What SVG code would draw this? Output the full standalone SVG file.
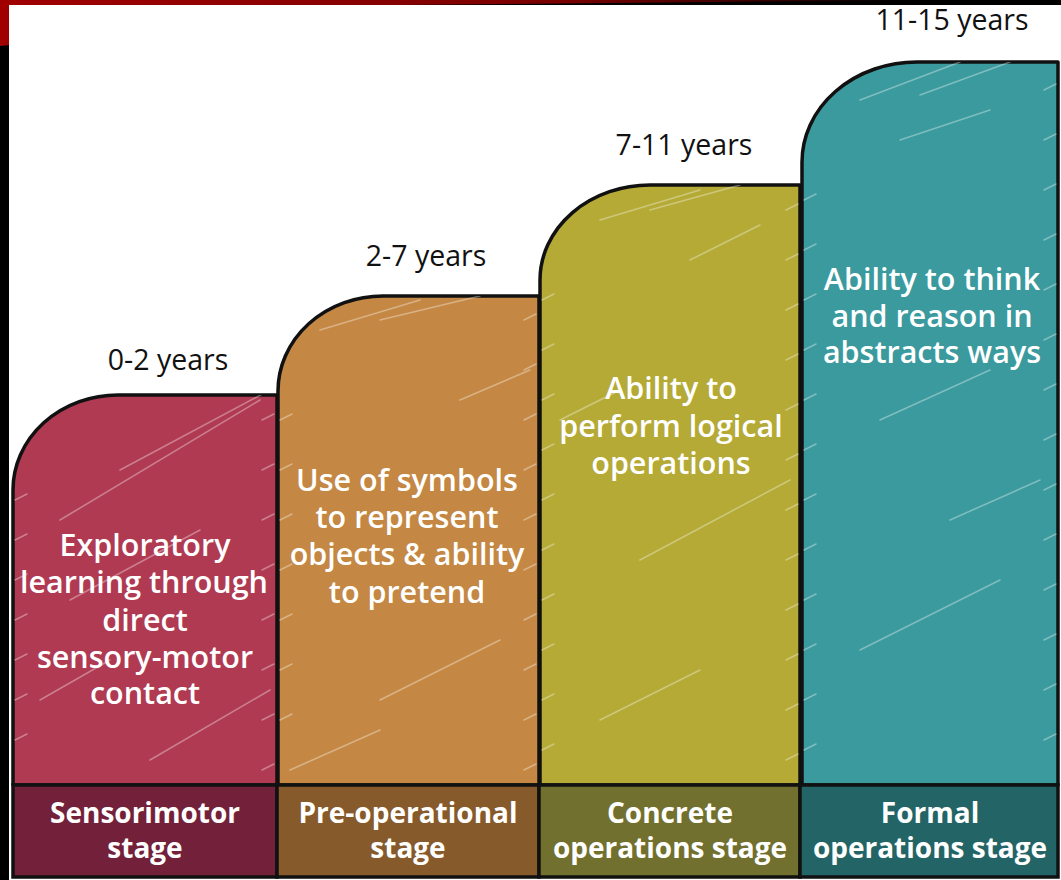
<svg xmlns="http://www.w3.org/2000/svg" width="1061" height="880" viewBox="0 0 1061 880">
<defs>
<linearGradient id="red" x1="0" y1="0" x2="1" y2="0">
<stop offset="0" stop-color="#a00000"/>
<stop offset="0.6" stop-color="#7a0000"/>
<stop offset="1" stop-color="#000000"/>
</linearGradient>
<clipPath id="c1"><path d="M13,785 V490 A105,95 0 0 1 118,395 H277 V785 Z"/></clipPath>
<clipPath id="c2"><path d="M278,785 V391 A105,95 0 0 1 383,296 H539 V785 Z"/></clipPath>
<clipPath id="c3"><path d="M540,785 V280 A110,95 0 0 1 650,185 H800 V785 Z"/></clipPath>
<clipPath id="c4"><path d="M802,785 V162 A115,100 0 0 1 917,62 H1058 V785 Z"/></clipPath>
</defs>
<style>
.shape{stroke:#111;stroke-width:3.5;stroke-linejoin:round}
.box{stroke:#111;stroke-width:3.5}
.hatch{stroke:#fff;stroke-opacity:0.35;stroke-width:1.6;stroke-linecap:round;fill:none}
.body{font-family:"Open Sans","Liberation Sans",sans-serif;font-weight:600;font-size:30.5px;fill:#fff;text-anchor:middle}
.lab{font-family:"Open Sans","Liberation Sans",sans-serif;font-weight:700;font-size:28px;fill:#fff;text-anchor:middle}
.yr{font-family:"Open Sans","Liberation Sans",sans-serif;font-weight:400;font-size:28.5px;fill:#111;text-anchor:middle}
</style>
<rect x="0" y="0" width="1061" height="880" fill="#000"/>
<path d="M0,0 H930 L400,5 H9 V45 L0,46 Z" fill="url(#red)"/>
<rect x="9" y="5" width="1052" height="875" fill="#fff"/>

<g id="col1">
<path class="shape" d="M13,785 V490 A105,95 0 0 1 118,395 H277 V785 Z" fill="#b03a52"/>
<g clip-path="url(#c1)" class="hatch">
<path d="M60,520 L260,400"/><path d="M120,470 L270,390"/><path d="M70,600 L200,530"/><path d="M150,760 L270,690"/><path d="M40,700 L110,660"/>
<path d="M15,500 l12,-6 M15,540 l12,-6 M15,580 l12,-6 M15,620 l12,-6 M15,660 l12,-6 M15,700 l12,-6 M15,740 l12,-6"/>
<path d="M262,420 l12,-6 M262,470 l12,-6 M262,520 l12,-6 M262,570 l12,-6 M262,620 l12,-6 M262,670 l12,-6 M262,720 l12,-6 M262,770 l12,-6"/>
</g>
</g>
<g id="col2">
<path class="shape" d="M278,785 V391 A105,95 0 0 1 383,296 H539 V785 Z" fill="#c48844"/>
<g clip-path="url(#c2)" class="hatch">
<path d="M320,330 L420,300"/><path d="M380,320 L480,296"/><path d="M460,400 L530,370"/><path d="M380,700 L500,640"/><path d="M290,770 L380,730"/>
<path d="M280,420 l12,-6 M280,470 l12,-6 M280,520 l12,-6 M280,570 l12,-6 M280,620 l12,-6 M280,670 l12,-6 M280,720 l12,-6"/>
<path d="M524,320 l12,-6 M524,370 l12,-6 M524,420 l12,-6 M524,470 l12,-6 M524,520 l12,-6 M524,570 l12,-6 M524,620 l12,-6 M524,670 l12,-6 M524,720 l12,-6 M524,770 l12,-6"/>
</g>
</g>
<g id="col3">
<path class="shape" d="M540,785 V280 A110,95 0 0 1 650,185 H800 V785 Z" fill="#b4aa35"/>
<g clip-path="url(#c3)" class="hatch">
<path d="M600,220 L700,190"/><path d="M650,210 L740,185"/><path d="M690,260 L760,225"/><path d="M560,420 L620,390"/><path d="M640,560 L790,480"/><path d="M600,720 L700,670"/>
<path d="M542,300 l12,-6 M542,350 l12,-6 M542,400 l12,-6 M542,450 l12,-6 M542,500 l12,-6 M542,550 l12,-6 M542,600 l12,-6 M542,650 l12,-6 M542,700 l12,-6 M542,750 l12,-6"/>
<path d="M786,210 l12,-6 M786,260 l12,-6 M786,310 l12,-6 M786,360 l12,-6 M786,410 l12,-6 M786,460 l12,-6 M786,510 l12,-6 M786,560 l12,-6 M786,610 l12,-6 M786,660 l12,-6 M786,710 l12,-6 M786,760 l12,-6"/>
</g>
</g>
<g id="col4">
<path class="shape" d="M802,785 V162 A115,100 0 0 1 917,62 H1058 V785 Z" fill="#3a9a9e"/>
<g clip-path="url(#c4)" class="hatch">
<path d="M860,100 L960,62"/><path d="M920,95 L1010,62"/><path d="M900,140 L990,110"/><path d="M880,420 L990,370"/><path d="M950,520 L1040,480"/><path d="M860,650 L1000,580"/>
<path d="M804,200 l12,-6 M804,250 l12,-6 M804,300 l12,-6 M804,350 l12,-6 M804,400 l12,-6 M804,450 l12,-6 M804,500 l12,-6 M804,550 l12,-6 M804,600 l12,-6 M804,650 l12,-6 M804,700 l12,-6 M804,750 l12,-6"/>
<path d="M1044,90 l12,-6 M1044,140 l12,-6 M1044,190 l12,-6 M1044,240 l12,-6 M1044,290 l12,-6 M1044,340 l12,-6 M1044,390 l12,-6 M1044,440 l12,-6 M1044,490 l12,-6 M1044,540 l12,-6 M1044,590 l12,-6 M1044,640 l12,-6 M1044,690 l12,-6 M1044,740 l12,-6"/>
</g>
</g>

<g id="boxes">
<rect class="box" x="13" y="785" width="264" height="92" fill="#73213a"/>
<rect class="box" x="277" y="785" width="262" height="92" fill="#875a2b"/>
<rect class="box" x="539" y="785" width="261" height="92" fill="#72702e"/>
<rect class="box" x="800" y="785" width="258" height="92" fill="#236567"/>
</g>

<g id="years">
<text class="yr" x="168" y="370">0-2 years</text>
<text class="yr" x="426" y="266">2-7 years</text>
<text class="yr" x="684" y="155">7-11 years</text>
<text class="yr" x="952" y="30">11-15 years</text>
</g>

<g id="text1">
<text class="body" x="145" y="556">Exploratory</text>
<text class="body" x="144" y="593">learning through</text>
<text class="body" x="145" y="631">direct</text>
<text class="body" x="145" y="668">sensory-motor</text>
<text class="body" x="145" y="704">contact</text>
</g>
<g id="text2">
<text class="body" x="407" y="491">Use of symbols</text>
<text class="body" x="407" y="528">to represent</text>
<text class="body" x="407" y="565">objects &amp; ability</text>
<text class="body" x="407" y="603">to pretend</text>
</g>
<g id="text3">
<text class="body" x="671" y="399">Ability to</text>
<text class="body" x="671" y="437">perform logical</text>
<text class="body" x="671" y="474">operations</text>
</g>
<g id="text4">
<text class="body" x="932" y="290">Ability to think</text>
<text class="body" x="932" y="327">and reason in</text>
<text class="body" x="932" y="363">abstracts ways</text>
</g>

<g id="labels">
<text class="lab" x="145" y="823">Sensorimotor</text>
<text class="lab" x="145" y="858">stage</text>
<text class="lab" x="408" y="823">Pre-operational</text>
<text class="lab" x="408" y="858">stage</text>
<text class="lab" x="670" y="823">Concrete</text>
<text class="lab" x="670" y="858">operations stage</text>
<text class="lab" x="930" y="823">Formal</text>
<text class="lab" x="930" y="858">operations stage</text>
</g>
</svg>
